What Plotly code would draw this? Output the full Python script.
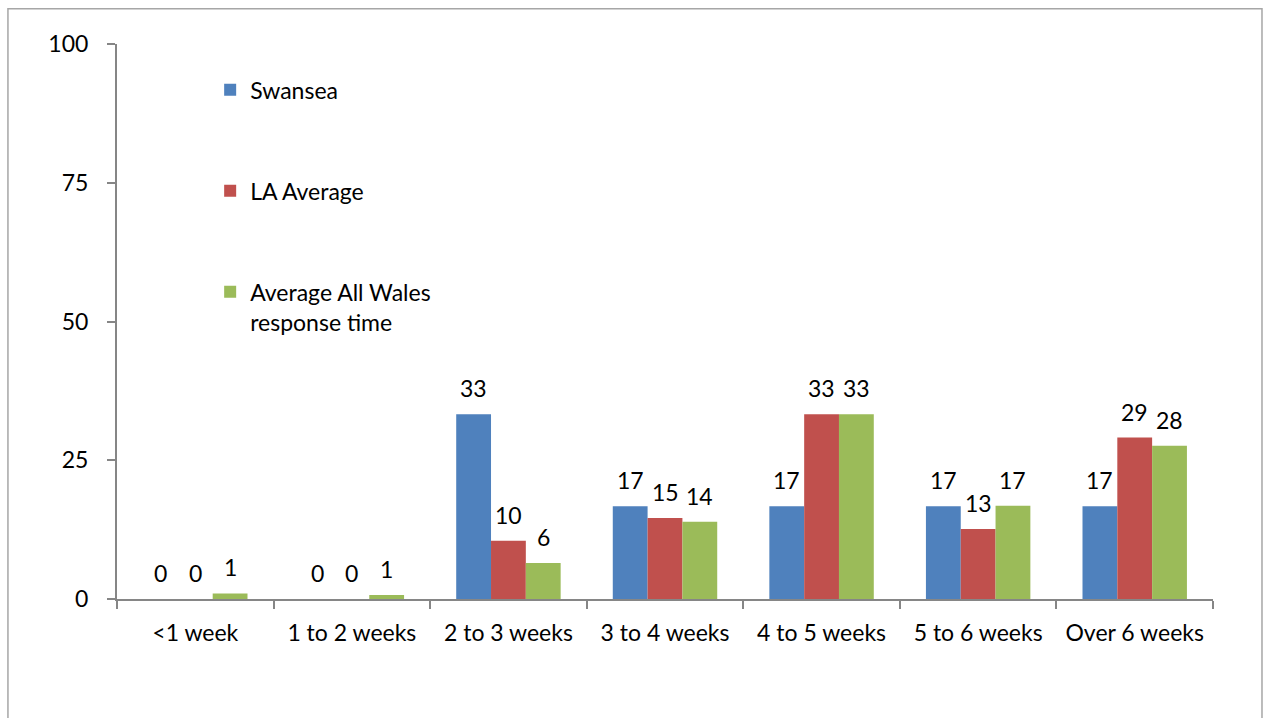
import plotly.graph_objects as go

# Response time bands and the share (%) of responses in each
categories = ["<1 week", "1 to 2 weeks", "2 to 3 weeks", "3 to 4 weeks",
              "4 to 5 weeks", "5 to 6 weeks", "Over 6 weeks"]
swansea = [0, 0, 33.3, 16.7, 16.7, 16.7, 16.7]
la_average = [0, 0, 10.5, 14.6, 33.3, 12.6, 29.1]
wales_average = [1.0, 0.7, 6.5, 13.9, 33.3, 16.8, 27.6]

series_names = ["Swansea", "LA Average", "Average All Wales<br>response time"]
series_values = [swansea, la_average, wales_average]
series_colors = ["#4F81BD", "#C0504D", "#9BBB59"]

y_ticks = [0, 25, 50, 75, 100]

FONT = "Lato, 'Open Sans', sans-serif"
FONT_SIZE = 23
TEXT_COLOR = "#000000"
BAR_GAP = 0.333

fig = go.Figure()
for i, (name, vals, col) in enumerate(zip(series_names, series_values, series_colors)):
    fig.add_trace(go.Bar(
        x=categories, y=vals, name=name,
        marker=dict(color=col, line=dict(width=0)),
        legendgroup=f"g{i}",
    ))

# Value labels above each bar, positioned from the grouped-bar geometry
n = len(series_values)
bar_w = (1 - BAR_GAP) / n
annotations = []
for k, vals in enumerate(series_values):
    for i, v in enumerate(vals):
        annotations.append(dict(
            x=i + (k - (n - 1) / 2) * bar_w, y=v, xref="x", yref="y",
            text=f"{v:.0f}", showarrow=False, yanchor="bottom",
            yshift=10, font=dict(family=FONT, size=FONT_SIZE, color=TEXT_COLOR),
        ))

fig.update_layout(
    width=1266, height=718,
    paper_bgcolor="white", plot_bgcolor="white",
    margin=dict(l=117, r=53, t=44, b=119),
    barmode="group", bargap=BAR_GAP, bargroupgap=0,
    font=dict(family=FONT, size=FONT_SIZE, color=TEXT_COLOR),
    showlegend=True,
    legend=dict(
        x=0.085, y=0.956, xanchor="left", yanchor="top",
        bgcolor="rgba(0,0,0,0)", tracegroupgap=68, valign="top",
        font=dict(family=FONT, size=FONT_SIZE, color=TEXT_COLOR),
        itemwidth=30,
    ),
    annotations=annotations,
    shapes=[dict(
        type="rect", xref="paper", yref="paper",
        x0=-0.0995, x1=1.0447, y0=-0.25, y1=1.0635,
        line=dict(color="#A6A6A6", width=1.5), fillcolor="rgba(0,0,0,0)",
        layer="below",
    )],
)

fig.update_xaxes(
    type="category", showgrid=False, showline=True,
    linecolor="#868686", linewidth=2,
    ticks="outside", tickson="boundaries", ticklen=8, tickwidth=2, tickcolor="#868686",
    ticklabelstandoff=12,
    tickfont=dict(family=FONT, size=FONT_SIZE, color=TEXT_COLOR),
)
fig.update_yaxes(
    range=[0, 100], tickvals=y_ticks, showgrid=False, zeroline=False,
    showline=True, linecolor="#868686", linewidth=2,
    ticks="outside", ticklen=8, tickwidth=2, tickcolor="#868686",
    ticklabelstandoff=14,
    tickfont=dict(family=FONT, size=FONT_SIZE, color=TEXT_COLOR),
)

fig.write_html("out.html")
